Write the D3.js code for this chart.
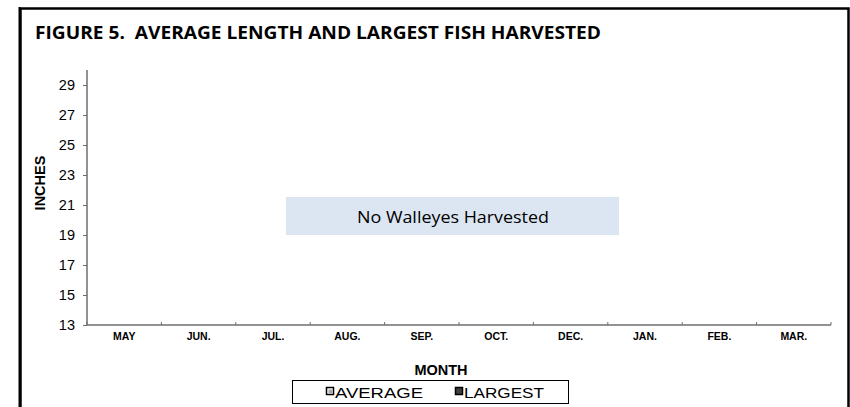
<!DOCTYPE html>
<html><head><meta charset="utf-8">
<script src="https://cdn.jsdelivr.net/npm/d3@7"></script>
<style>body{margin:0;background:#fff}svg{display:block}text{white-space:pre}</style>
</head><body>
<script>
const months = ["MAY","JUN.","JUL.","AUG.","SEP.","OCT.","DEC.","JAN.","FEB.","MAR."];
const yTicks = [13,15,17,19,21,23,25,27,29];
const averageValues = [null,null,null,null,null,null,null,null,null,null];
const largestValues = [null,null,null,null,null,null,null,null,null,null];
const seriesNames = ["AVERAGE","LARGEST"];
const titleText = "FIGURE 5.  AVERAGE LENGTH AND LARGEST FISH HARVESTED";
const noteText = "No Walleyes Harvested";

const W = 850, H = 407;
const svg = d3.select("body").append("svg").attr("width", W).attr("height", H);
const arial = "Arial, 'Liberation Sans', sans-serif";

// outer frame
svg.append("rect").attr("x",20.5).attr("y",8.5).attr("width",828).attr("height",420)
  .attr("fill","none").attr("stroke","#000").attr("stroke-width",2.5);
svg.append("line").attr("x1",19.5).attr("x2",19.5).attr("y1",7).attr("y2",407).attr("stroke","#000").attr("stroke-width",2);

svg.append("text").attr("x",35).attr("y",38.5).text(titleText)
  .attr("textLength",566).attr("lengthAdjust","spacingAndGlyphs")
  .attr("font-family","'Open Sans', Lato, sans-serif").attr("font-weight","bold").attr("font-size",17).attr("fill","#000");

const x = d3.scaleBand().domain(months).range([87,831]);
const y = d3.scaleLinear().domain([13,30]).range([325,70]);

// y axis
const ya = svg.append("g").attr("transform","translate(87,0)")
  .call(d3.axisLeft(y).tickValues(yTicks).tickSize(4).tickPadding(8).tickFormat(d3.format("d")));
ya.select(".domain").attr("stroke","#6e6e6e").attr("stroke-width",1.5).attr("d","M0,70V325");
ya.selectAll(".tick line").attr("stroke","#6e6e6e");
ya.selectAll("text").attr("font-family",arial).attr("font-size",14.5).attr("fill","#000");

// x axis
const xa = svg.append("g").attr("transform","translate(0,325)")
  .call(d3.axisBottom(x).tickSize(0).tickPadding(8));
xa.select(".domain").attr("stroke","#6e6e6e").attr("stroke-width",1.5).attr("d","M87,0H831");
xa.selectAll("text").attr("font-family",arial).attr("font-size",10.5).attr("font-weight","bold").attr("fill","#000");
const bounds = months.map(m => x(m) + x.bandwidth()).concat([x(months[0])]);
xa.selectAll(".bnd").data(bounds).enter().append("line")
  .attr("x1",d=>d).attr("x2",d=>d).attr("y1",0).attr("y2",-3).attr("stroke","#6e6e6e");

// bars (no data)
const sub = d3.scaleBand().domain(seriesNames).range([0,x.bandwidth()]).padding(0.2);
[averageValues, largestValues].forEach((vals,i)=>{
  svg.append("g").selectAll("rect").data(months.map((m,j)=>({m,v:vals[j]})).filter(d=>d.v!=null))
    .enter().append("rect")
    .attr("x",d=>x(d.m)+sub(seriesNames[i])).attr("width",sub.bandwidth())
    .attr("y",d=>y(d.v)).attr("height",d=>y(13)-y(d.v))
    .attr("fill", i===0 ? "#fff" : "#404040").attr("stroke","#000");
});

// axis titles
svg.append("text").attr("transform","translate(45,183) rotate(-90)").attr("text-anchor","middle")
  .text("INCHES").attr("font-family",arial).attr("font-weight","bold").attr("font-size",14.5);
svg.append("text").attr("x",441).attr("y",375).attr("text-anchor","middle")
  .text("MONTH").attr("font-family",arial).attr("font-weight","bold").attr("font-size",14.5);

// note box
svg.append("rect").attr("x",286).attr("y",197).attr("width",333).attr("height",38).attr("fill","#dce6f2");
svg.append("text").attr("x",357).attr("y",222.5).text(noteText)
  .attr("textLength",192).attr("lengthAdjust","spacingAndGlyphs")
  .attr("font-family","'Open Sans', Lato, sans-serif").attr("font-size",17).attr("fill","#000");

// legend
svg.append("rect").attr("x",292.5).attr("y",380.5).attr("width",276).attr("height",23).attr("fill","#fff").attr("stroke","#000");
const legX = [326, 455];
const legLen = [88, 80];
seriesNames.forEach((n,i)=>{
  const g = svg.append("g");
  g.append("rect").attr("x",legX[i]+0.5).attr("y",387.5).attr("width",7).attr("height",7)
    .attr("fill", i===0 ? "#fff" : "#404040").attr("stroke","#000").attr("stroke-width",1.5);
  if(i===0) g.append("rect").attr("x",legX[i]+2.5).attr("y",389.5).attr("width",4).attr("height",4).attr("fill","#aaa");
  g.append("text").attr("x",legX[i]+9).attr("y",397.5).text(n)
    .attr("textLength",legLen[i]).attr("lengthAdjust","spacingAndGlyphs")
    .attr("font-family",arial).attr("font-size",15.5).attr("fill","#000");
});
</script>
</body></html>
